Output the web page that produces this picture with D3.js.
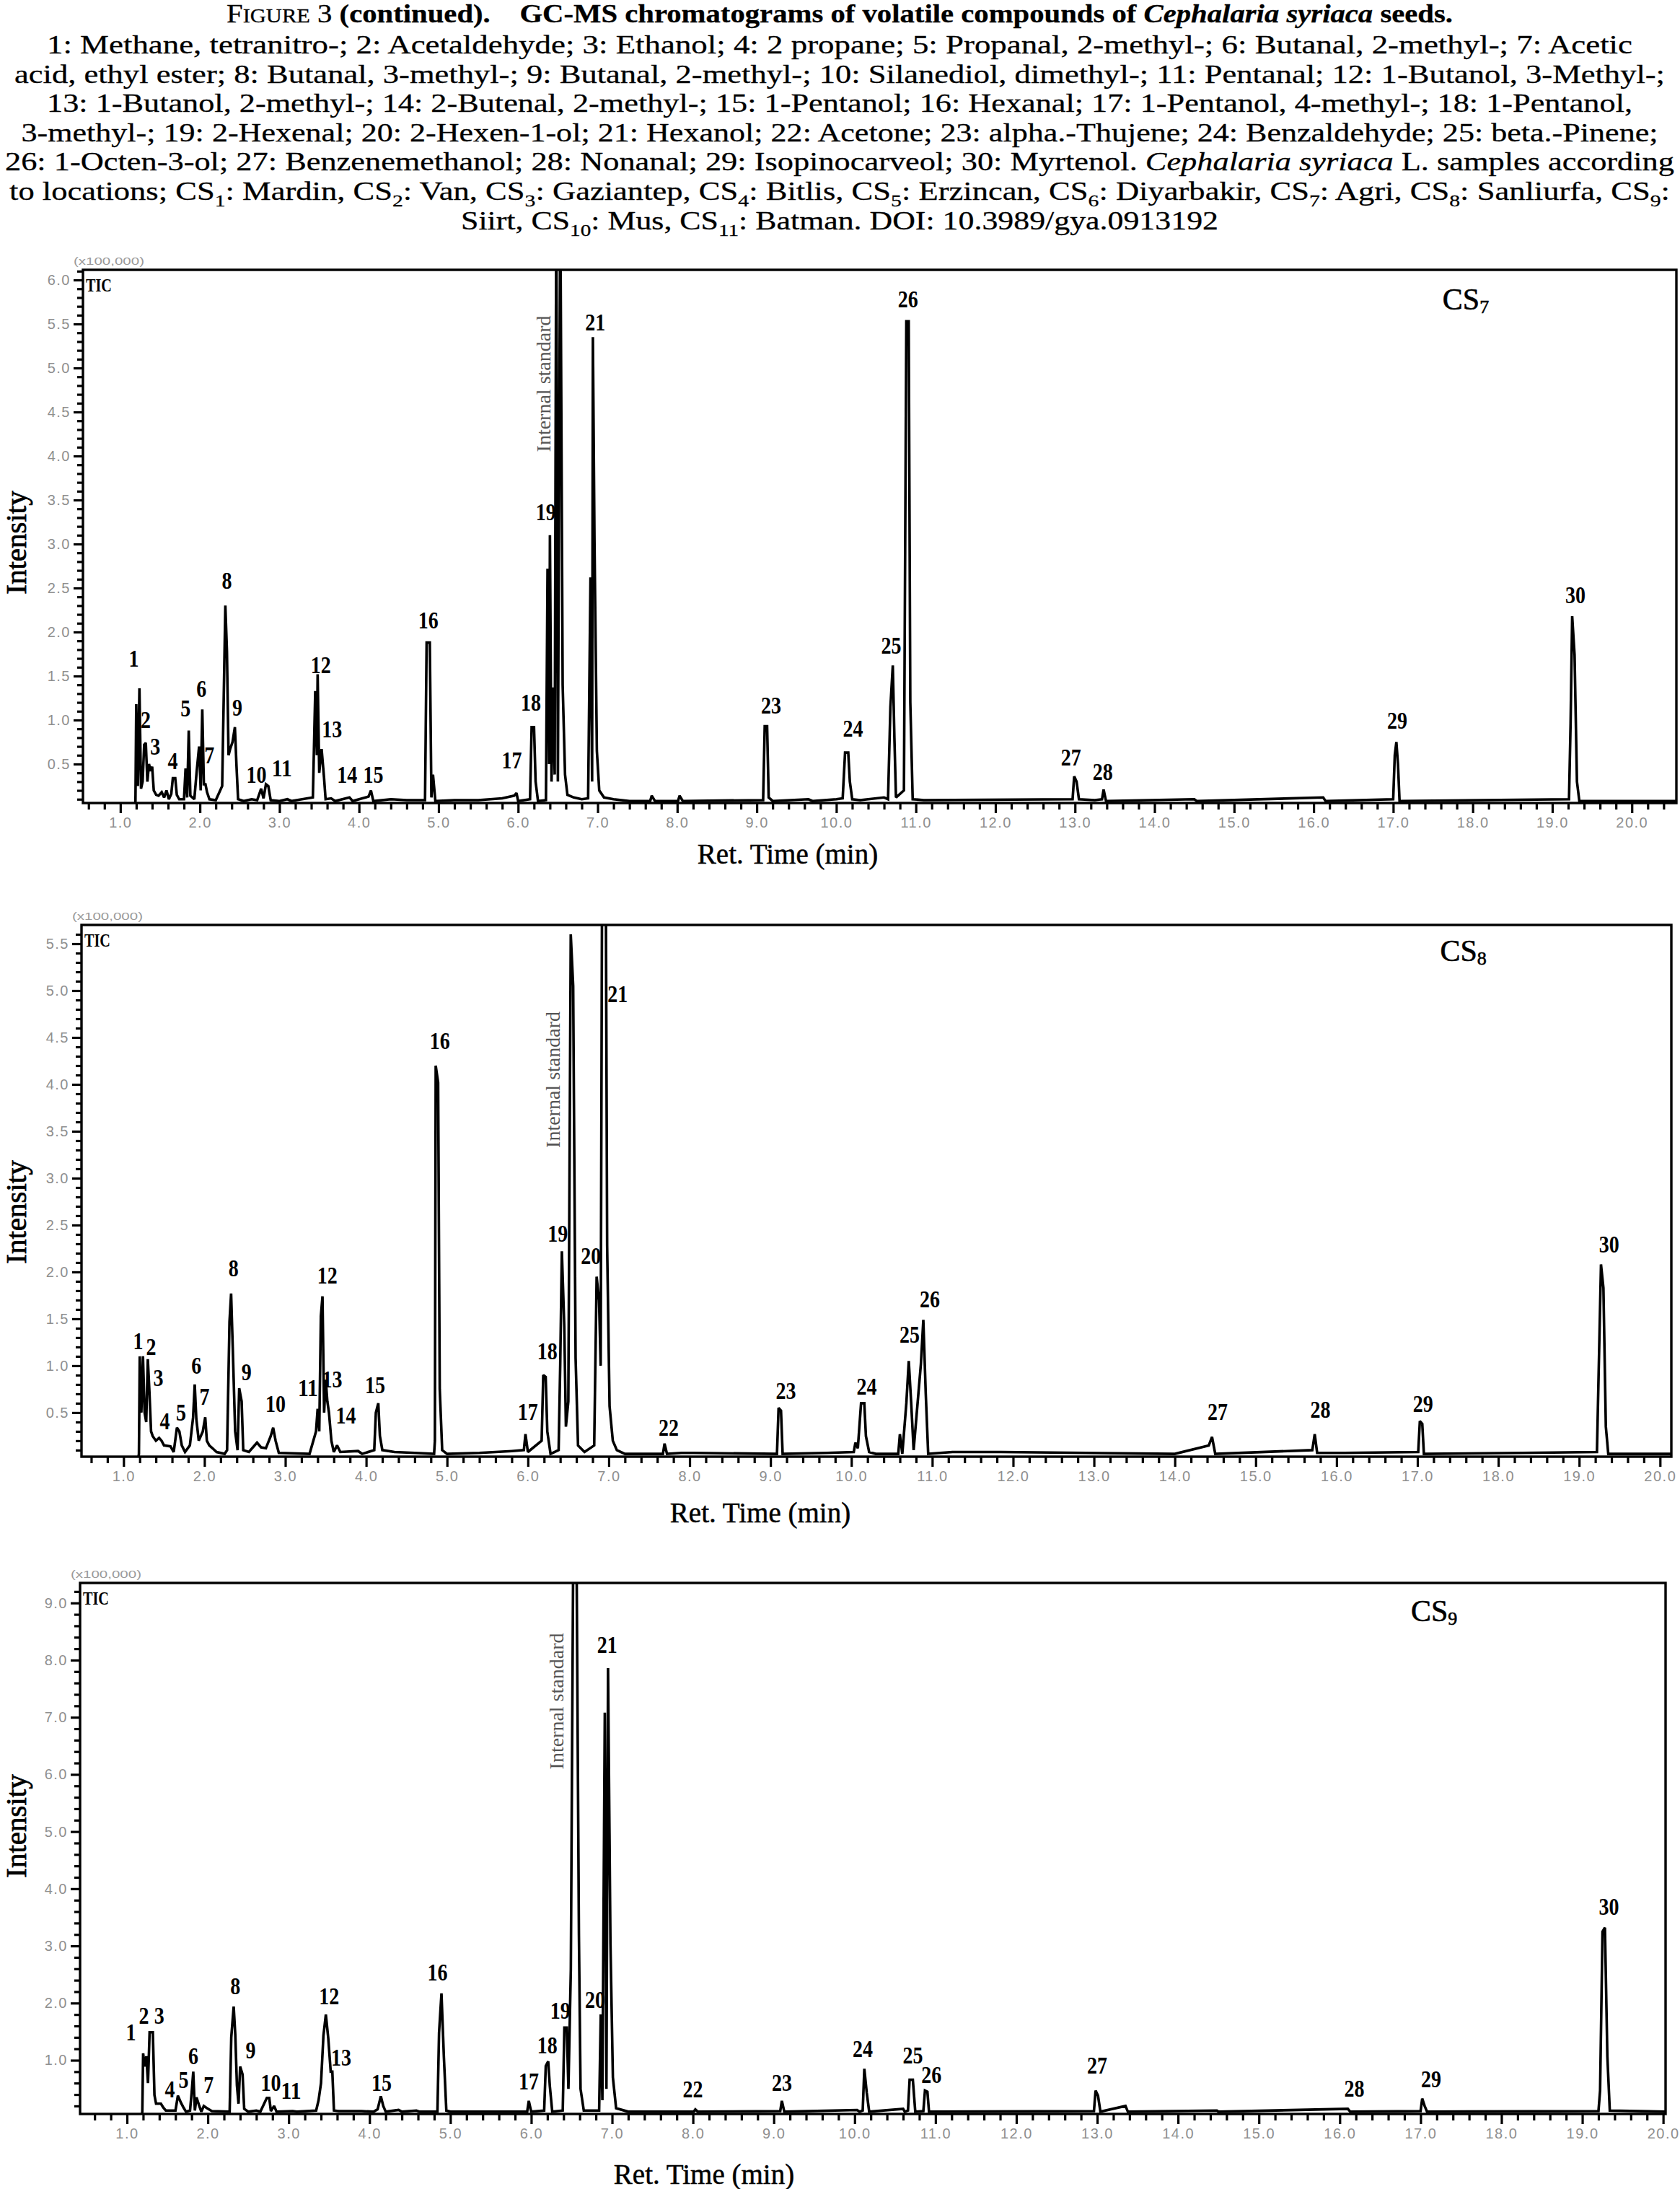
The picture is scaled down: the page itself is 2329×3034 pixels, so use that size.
<!DOCTYPE html>
<html>
<head>
<meta charset="utf-8">
<script src="https://cdn.jsdelivr.net/npm/d3@7"></script>
<style>
  body { margin: 0; background: #fff; }
  svg { display: block; }
</style>
</head>
<body>
<svg id="fig" width="2329" height="3034"></svg>
<script>
// ---- data ----------------------------------------------------------------

const retTimeTicks = [1, 2, 3, 4, 5, 6, 7, 8, 9, 10, 11, 12, 13, 14, 15, 16, 17, 18, 19, 20];
const cs7IntensityTicks = [0.5, 1.0, 1.5, 2.0, 2.5, 3.0, 3.5, 4.0, 4.5, 5.0, 5.5, 6.0];
const cs8IntensityTicks = [0.5, 1.0, 1.5, 2.0, 2.5, 3.0, 3.5, 4.0, 4.5, 5.0, 5.5];
const cs9IntensityTicks = [1, 2, 3, 4, 5, 6, 7, 8, 9];

// [retention time (min), intensity (x100,000)]
const cs7Trace = [[0.53,0],[1.18,0],[1.19,0.08],[1.2,1.18],[1.22,0.25],[1.24,1.36],[1.26,0.22],[1.28,0.3],[1.3,0.72],[1.32,0.74],[1.34,0.3],[1.36,0.5],[1.38,0.42],[1.4,0.47],[1.42,0.2],[1.45,0.15],[1.48,0.14],[1.52,0.18],[1.55,0.12],[1.58,0.2],[1.61,0.1],[1.64,0.16],[1.66,0.34],[1.69,0.34],[1.71,0.15],[1.74,0.1],[1.8,0.1],[1.82,0.45],[1.84,0.12],[1.86,0.88],[1.88,0.14],[1.93,0.1],[1.96,0.42],[1.99,0.7],[2.01,0.2],[2.03,1.12],[2.05,0.27],[2.07,0.27],[2.09,0.18],[2.12,0.1],[2.2,0.09],[2.28,0.25],[2.32,2.3],[2.34,1.78],[2.36,0.6],[2.38,0.67],[2.41,0.75],[2.44,0.92],[2.46,0.48],[2.48,0.1],[2.55,0.08],[2.65,0.1],[2.72,0.09],[2.77,0.22],[2.8,0.11],[2.83,0.27],[2.86,0.25],[2.89,0.09],[3.0,0.08],[3.1,0.1],[3.15,0.08],[3.42,0.12],[3.45,1.33],[3.47,0.6],[3.48,1.52],[3.5,0.4],[3.53,0.67],[3.56,0.35],[3.58,0.1],[3.65,0.11],[3.7,0.08],[3.88,0.12],[3.92,0.08],[4.12,0.13],[4.15,0.2],[4.18,0.08],[4.4,0.1],[4.6,0.09],[4.83,0.09],[4.85,1.88],[4.89,1.88],[4.91,0.12],[4.93,0.38],[4.96,0.08],[5.2,0.09],[5.5,0.09],[5.8,0.11],[5.95,0.14],[5.98,0.17],[6.0,0.08],[6.15,0.1],[6.17,0.92],[6.2,0.92],[6.22,0.3],[6.25,0.08],[6.35,0.09],[6.37,2.72],[6.39,0.5],[6.4,3.1],[6.42,0.3],[6.44,1.37],[6.46,0.38],[6.48,7.0],[6.5,0.3],[6.53,7.0],[6.56,1.4],[6.59,0.38],[6.62,0.15],[6.7,0.12],[6.8,0.1],[6.88,0.11],[6.91,2.62],[6.93,0.3],[6.94,5.35],[6.96,3.05],[6.99,0.65],[7.02,0.2],[7.08,0.12],[7.2,0.1],[7.4,0.08],[7.66,0.08],[7.68,0.14],[7.72,0.08],[8.01,0.08],[8.03,0.14],[8.07,0.08],[9.08,0.09],[9.1,0.93],[9.13,0.93],[9.15,0.12],[9.2,0.08],[9.65,0.1],[9.7,0.08],[10.0,0.1],[10.08,0.11],[10.11,0.63],[10.15,0.63],[10.17,0.3],[10.2,0.1],[10.3,0.09],[10.6,0.12],[10.65,0.1],[10.68,1.15],[10.71,1.62],[10.73,0.8],[10.75,0.12],[10.85,0.2],[10.88,5.53],[10.91,5.53],[10.93,1.2],[10.96,0.1],[11.1,0.09],[12.97,0.1],[12.99,0.36],[13.02,0.3],[13.05,0.1],[13.25,0.09],[13.34,0.1],[13.36,0.21],[13.39,0.08],[14.5,0.1],[14.53,0.08],[16.12,0.12],[16.15,0.08],[17.0,0.1],[17.02,0.6],[17.04,0.75],[17.06,0.5],[17.08,0.08],[19.21,0.1],[19.23,0.96],[19.25,2.18],[19.28,1.74],[19.31,0.3],[19.34,0.08],[20.56,0.08]];

const cs8Trace = [[0.48,0],[1.18,0],[1.19,0.06],[1.2,1.1],[1.22,0.5],[1.24,1.1],[1.26,0.5],[1.28,0.4],[1.3,1.07],[1.32,0.72],[1.34,0.3],[1.36,0.25],[1.4,0.2],[1.44,0.23],[1.47,0.2],[1.5,0.15],[1.58,0.14],[1.62,0.08],[1.66,0.34],[1.69,0.3],[1.72,0.15],[1.76,0.08],[1.82,0.15],[1.86,0.45],[1.88,0.8],[1.9,0.43],[1.93,0.2],[1.98,0.3],[2.01,0.45],[2.03,0.2],[2.06,0.15],[2.1,0.12],[2.15,0.08],[2.25,0.06],[2.28,0.1],[2.31,1.47],[2.33,1.77],[2.35,1.2],[2.38,0.3],[2.41,0.1],[2.43,0.76],[2.46,0.62],[2.48,0.1],[2.55,0.08],[2.65,0.18],[2.7,0.13],[2.76,0.12],[2.82,0.25],[2.85,0.34],[2.88,0.2],[2.92,0.07],[3.3,0.06],[3.38,0.3],[3.4,0.54],[3.42,0.3],[3.44,1.53],[3.46,1.74],[3.48,0.5],[3.5,0.85],[3.52,0.62],[3.54,0.5],[3.57,0.2],[3.6,0.08],[3.64,0.15],[3.68,0.08],[3.9,0.09],[3.95,0.06],[4.1,0.1],[4.12,0.5],[4.15,0.6],[4.17,0.25],[4.2,0.1],[4.35,0.08],[4.6,0.07],[4.84,0.06],[4.85,0.2],[4.86,4.2],[4.89,4.02],[4.91,0.75],[4.94,0.1],[5.0,0.06],[5.4,0.07],[5.8,0.09],[5.95,0.1],[5.97,0.27],[6.0,0.08],[6.17,0.2],[6.19,0.9],[6.22,0.88],[6.24,0.3],[6.28,0.06],[6.38,0.1],[6.4,1.02],[6.42,2.22],[6.45,1.42],[6.47,0.35],[6.5,0.62],[6.53,5.6],[6.56,5.05],[6.59,1.08],[6.62,0.15],[6.7,0.08],[6.82,0.15],[6.85,1.95],[6.88,1.7],[6.9,1.0],[6.92,7.0],[6.96,7.0],[6.98,2.28],[7.01,0.57],[7.05,0.2],[7.1,0.1],[7.2,0.06],[7.67,0.06],[7.69,0.17],[7.72,0.06],[7.9,0.07],[8.05,0.07],[9.08,0.06],[9.1,0.55],[9.13,0.52],[9.15,0.06],[9.7,0.07],[10.03,0.08],[10.05,0.18],[10.08,0.12],[10.12,0.6],[10.16,0.6],[10.18,0.25],[10.22,0.08],[10.3,0.06],[10.58,0.06],[10.6,0.27],[10.63,0.06],[10.68,0.6],[10.71,1.05],[10.74,0.6],[10.77,0.1],[10.86,1.02],[10.89,1.49],[10.92,0.7],[10.95,0.06],[11.25,0.08],[11.4,0.08],[11.7,0.08],[11.85,0.08],[12.9,0.07],[14.0,0.06],[14.42,0.15],[14.46,0.24],[14.5,0.06],[15.7,0.1],[15.73,0.27],[15.76,0.07],[16.1,0.07],[17.01,0.08],[17.03,0.41],[17.06,0.38],[17.08,0.06],[18.3,0.07],[19.22,0.08],[19.24,0.88],[19.27,2.08],[19.3,1.83],[19.33,0.35],[19.36,0.06],[20.14,0.06]];

const cs9Trace = [[0.42,0],[1.18,0],[1.19,0.1],[1.2,1.12],[1.22,0.89],[1.24,1.07],[1.26,0.6],[1.28,1.49],[1.32,1.49],[1.34,0.39],[1.36,0.24],[1.42,0.24],[1.45,0.17],[1.48,0.12],[1.6,0.12],[1.63,0.38],[1.67,0.25],[1.7,0.17],[1.73,0.1],[1.78,0.12],[1.8,0.43],[1.82,0.8],[1.84,0.12],[1.86,0.35],[1.89,0.22],[1.92,0.1],[1.95,0.2],[1.99,0.16],[2.05,0.11],[2.27,0.1],[2.29,1.4],[2.32,1.94],[2.34,1.44],[2.36,0.56],[2.38,0.24],[2.4,0.89],[2.43,0.75],[2.45,0.15],[2.5,0.1],[2.6,0.12],[2.65,0.1],[2.73,0.34],[2.76,0.34],[2.78,0.11],[2.82,0.2],[2.85,0.1],[3.05,0.11],[3.1,0.1],[3.34,0.12],[3.37,0.3],[3.4,0.6],[3.43,1.43],[3.46,1.8],[3.49,1.38],[3.52,0.8],[3.54,0.8],[3.56,0.12],[3.62,0.11],[3.9,0.11],[4.05,0.1],[4.1,0.14],[4.14,0.37],[4.17,0.2],[4.2,0.1],[4.36,0.13],[4.4,0.1],[4.58,0.12],[4.62,0.1],[4.84,0.1],[4.86,1.48],[4.89,2.17],[4.92,1.05],[4.95,0.12],[5.0,0.1],[5.95,0.1],[5.97,0.29],[6.0,0.1],[6.16,0.12],[6.18,0.9],[6.21,0.98],[6.23,0.55],[6.26,0.1],[6.39,0.12],[6.41,1.57],[6.44,1.57],[6.46,0.5],[6.49,2.59],[6.52,10.0],[6.56,10.0],[6.59,3.18],[6.61,0.5],[6.65,0.12],[6.84,0.12],[6.86,1.8],[6.88,0.3],[6.91,7.08],[6.93,0.5],[6.95,7.86],[6.98,3.04],[7.01,0.7],[7.05,0.16],[7.2,0.1],[8.01,0.1],[8.03,0.14],[8.06,0.1],[9.08,0.11],[9.1,0.29],[9.13,0.1],[10.03,0.13],[10.06,0.1],[10.1,0.12],[10.12,0.85],[10.15,0.43],[10.18,0.1],[10.6,0.15],[10.62,0.1],[10.66,0.12],[10.68,0.66],[10.72,0.66],[10.75,0.1],[10.85,0.11],[10.87,0.47],[10.9,0.45],[10.92,0.1],[12.96,0.11],[12.98,0.47],[13.01,0.38],[13.04,0.1],[13.35,0.2],[13.38,0.1],[14.48,0.12],[14.5,0.1],[16.1,0.15],[16.13,0.1],[17.0,0.11],[17.02,0.33],[17.05,0.2],[17.08,0.1],[19.2,0.11],[19.22,0.47],[19.25,3.25],[19.28,3.32],[19.31,1.07],[19.34,0.12],[20.03,0.1]];

// [peak number, retention time, intensity] where each number sits
const cs7PeakLabels = [["1",1.17,1.7],["2",1.32,1.0],["3",1.44,0.7],["4",1.66,0.53],["5",1.82,1.13],["6",2.02,1.35],["7",2.12,0.6],["8",2.34,2.58],["9",2.47,1.14],["10",2.71,0.38],["11",3.03,0.45],["12",3.52,1.62],["13",3.66,0.89],["14",3.85,0.38],["15",4.18,0.38],["16",4.87,2.13],["17",5.92,0.54],["18",6.16,1.2],["19",6.35,3.36],["21",6.97,5.52],["23",9.18,1.16],["24",10.21,0.9],["25",10.69,1.84],["26",10.9,5.78],["27",12.95,0.57],["28",13.35,0.41],["29",17.05,0.99],["30",19.29,2.42]];
const cs8PeakLabels = [["1",1.18,1.26],["2",1.34,1.2],["3",1.43,0.87],["4",1.51,0.41],["5",1.71,0.5],["6",1.9,1.0],["7",2.0,0.67],["8",2.36,2.04],["9",2.52,0.93],["10",2.88,0.59],["11",3.28,0.76],["12",3.52,1.96],["13",3.58,0.85],["14",3.75,0.47],["15",4.11,0.79],["16",4.91,4.46],["17",6.0,0.51],["18",6.24,1.15],["19",6.37,2.41],["20",6.78,2.17],["21",7.11,4.96],["22",7.74,0.34],["23",9.19,0.73],["24",10.19,0.78],["25",10.72,1.33],["26",10.97,1.71],["27",14.53,0.51],["28",15.8,0.53],["29",17.07,0.59],["30",19.37,2.29]];
const cs9PeakLabels = [["1",1.05,1.49],["2",1.21,1.78],["3",1.4,1.78],["4",1.53,0.49],["5",1.7,0.65],["6",1.82,1.07],["7",2.01,0.57],["8",2.34,2.3],["9",2.53,1.17],["10",2.78,0.6],["11",3.03,0.46],["12",3.5,2.12],["13",3.65,1.05],["15",4.15,0.6],["16",4.84,2.54],["17",5.97,0.63],["18",6.2,1.26],["19",6.36,1.87],["20",6.79,2.06],["21",6.94,8.26],["22",8.0,0.49],["23",9.1,0.6],["24",10.1,1.2],["25",10.72,1.08],["26",10.95,0.74],["27",13.0,0.9],["28",16.18,0.5],["29",17.13,0.67],["30",19.33,3.68]];

// internal standard note and sample tag, [text, retention time, intensity]
const cs7Notes = { standard: ["Internal standard", 6.32, 4.82], sample: ["7", 17.62, 5.78] };
const cs8Notes = { standard: ["Internal standard", 6.31, 4.05], sample: ["8", 17.28, 5.42] };
const cs9Notes = { standard: ["Internal standard", 6.31, 7.28], sample: ["9", 16.88, 8.86] };

const captionLines = [
    [["F", "n"], ["IGURE", "sc"], [" 3 ", "n"], ["(continued).", "b"], ["    GC-MS chromatograms of volatile compounds of ", "b"], ["Cephalaria syriaca", "bi"], [" seeds.", "b"]],
    [["1: Methane, tetranitro-; 2: Acetaldehyde; 3: Ethanol; 4: 2 propane; 5: Propanal, 2-methyl-; 6: Butanal, 2-methyl-; 7: Acetic", "n"]],
    [["acid, ethyl ester; 8: Butanal, 3-methyl-; 9: Butanal, 2-methyl-; 10: Silanediol, dimethyl-; 11: Pentanal; 12: 1-Butanol, 3-Methyl-;", "n"]],
    [["13: 1-Butanol, 2-methyl-; 14: 2-Butenal, 2-methyl-; 15: 1-Pentanol; 16: Hexanal; 17: 1-Pentanol, 4-methyl-; 18: 1-Pentanol,", "n"]],
    [["3-methyl-; 19: 2-Hexenal; 20: 2-Hexen-1-ol; 21: Hexanol; 22: Acetone; 23: alpha.-Thujene; 24: Benzaldehyde; 25: beta.-Pinene;", "n"]],
    [["26: 1-Octen-3-ol; 27: Benzenemethanol; 28: Nonanal; 29: Isopinocarveol; 30: Myrtenol. ", "n"], ["Cephalaria syriaca", "i"], [" L. samples according", "n"]],
    [["to locations; CS", "n"], ["1", "sub"], [": Mardin, CS", "n"], ["2", "sub"], [": Van, CS", "n"], ["3", "sub"], [": Gaziantep, CS", "n"], ["4", "sub"], [": Bitlis, CS", "n"], ["5", "sub"], [": Erzincan, CS", "n"], ["6", "sub"], [": Diyarbakir, CS", "n"], ["7", "sub"], [": Agri, CS", "n"], ["8", "sub"], [": Sanliurfa, CS", "n"], ["9", "sub"], [":", "n"]],
    [["Siirt, CS", "n"], ["10", "sub"], [": Mus, CS", "n"], ["11", "sub"], [": Batman. DOI: 10.3989/gya.0913192", "n"]]
];

// ---- drawing -------------------------------------------------------------

const SERIF = "'Liberation Serif', 'Times New Roman', serif";
const SANS = "'Liberation Sans', Arial, sans-serif";
const svg = d3.select("#fig");

// caption: measured line widths and baselines
const captionWidths = [1700, 2198, 2288, 2198, 2269, 2314, 2302, 1050];
const captionBase = [31, 74, 114.6, 155, 196, 236, 277, 318];

const caption = svg.append("g")
    .attr("font-family", SERIF).attr("font-size", 36)
    .attr("fill", "#000").attr("stroke", "#000").attr("stroke-width", 0.3);
captionLines.forEach((segs, i) => {
    const t = caption.append("text")
        .attr("x", 1164)
        .attr("y", captionBase[i])
        .attr("text-anchor", "middle")
        .attr("xml:space", "preserve")
        .style("white-space", "pre")
        .attr("textLength", captionWidths[i])
        .attr("lengthAdjust", "spacingAndGlyphs");
    let lowered = false;
    segs.forEach(([txt, st]) => {
        const s = t.append("tspan").text(txt);
        if (st === "sub") {
            s.attr("font-size", 24).attr("dy", lowered ? 0 : 9);
            lowered = true;
            return;
        }
        if (lowered) { s.attr("dy", -9); lowered = false; }
        if (st === "b" || st === "bi") s.attr("font-weight", "bold");
        if (st === "i" || st === "bi") s.attr("font-style", "italic");
        if (st === "sc") s.attr("font-size", 27);
    });
});

class Chromatogram {
    constructor(svg, box) {
        this.box = box;
        this.g = svg.append("g");
        this.x = d3.scaleLinear().domain(box.xDomain).range([box.left, box.right]);
        this.y = d3.scaleLinear().domain(box.yDomain).range([box.bottom, box.top]);
        this.clipId = "clip-" + box.id;
        this.g.append("clipPath").attr("id", this.clipId)
            .append("rect")
            .attr("x", box.left).attr("y", box.top)
            .attr("width", box.right - box.left).attr("height", box.bottom - box.top);
    }

    draw(trace, labels, notes, yTicks, yMinorStep) {
        const { box, x, y, g } = this;

        const line = d3.line().x(d => x(d[0])).y(d => y(d[1]));
        g.append("path")
            .datum(trace)
            .attr("clip-path", `url(#${this.clipId})`)
            .attr("d", line)
            .attr("fill", "none")
            .attr("stroke", "#000")
            .attr("stroke-width", 3.6)
            .attr("stroke-linejoin", "miter")
            .attr("stroke-miterlimit", 2);

        // frame
        g.append("rect")
            .attr("x", box.left).attr("y", box.top)
            .attr("width", box.right - box.left).attr("height", box.bottom - box.top)
            .attr("fill", "none").attr("stroke", "#000").attr("stroke-width", 3.4);

        // x axis ticks
        const xMinor = d3.range(Math.ceil(box.xDomain[0] * 5) / 5, box.xDomain[1], 0.2)
            .filter(v => Math.abs(v - Math.round(v)) > 1e-6);
        const xMinorAxis = g.append("g").attr("transform", `translate(0,${box.bottom})`)
            .call(d3.axisBottom(x).tickValues(xMinor).tickSize(9).tickFormat(""));
        const xMajorAxis = g.append("g").attr("transform", `translate(0,${box.bottom})`)
            .call(d3.axisBottom(x).tickValues(retTimeTicks).tickSize(14).tickPadding(6)
                .tickFormat(d3.format(".1f")));

        // y axis ticks
        const yMinor = d3.range(yMinorStep, box.yDomain[1], yMinorStep)
            .filter(v => !yTicks.some(t => Math.abs(t - v) < 1e-6));
        const yMinorAxis = g.append("g").attr("transform", `translate(${box.left},0)`)
            .call(d3.axisLeft(y).tickValues(yMinor).tickSize(8).tickFormat(""));
        const yMajorAxis = g.append("g").attr("transform", `translate(${box.left},0)`)
            .call(d3.axisLeft(y).tickValues(yTicks).tickSize(13).tickPadding(4)
                .tickFormat(d3.format(".1f")));

        [xMinorAxis, xMajorAxis, yMinorAxis, yMajorAxis].forEach(a => {
            a.select(".domain").remove();
            a.selectAll(".tick line").attr("stroke", "#000").attr("stroke-width", 3.2);
            a.selectAll(".tick text")
                .attr("font-family", SANS)
                .attr("font-size", 20)
                .attr("fill", "#8f8f8f")
                .attr("letter-spacing", 1.5);
        });

        // axis titles
        g.append("text")
            .attr("x", box.xTitle[0]).attr("y", box.xTitle[1])
            .attr("text-anchor", "middle")
            .attr("dominant-baseline", "central")
            .attr("font-family", SERIF).attr("font-size", 39)
            .attr("stroke", "#000").attr("stroke-width", 0.5)
            .text("Ret. Time (min)");
        g.append("text")
            .attr("transform", `translate(22,${box.yTitle}) rotate(-90)`)
            .attr("text-anchor", "middle")
            .attr("dominant-baseline", "central")
            .attr("font-family", SERIF).attr("font-size", 41)
            .attr("stroke", "#000").attr("stroke-width", 0.8)
            .text("Intensity");

        // scale note and TIC tag
        g.append("text")
            .attr("x", box.left - 13).attr("y", box.top - 7)
            .attr("font-family", SANS).attr("font-size", 15)
            .attr("fill", "#9a9a9a")
            .attr("textLength", 98).attr("lengthAdjust", "spacingAndGlyphs")
            .text("(x100,000)");
        g.append("text")
            .attr("x", box.left + 4).attr("y", box.top + 30)
            .attr("font-family", SERIF).attr("font-size", 26).attr("font-weight", "bold")
            .attr("textLength", 36).attr("lengthAdjust", "spacingAndGlyphs")
            .text("TIC");

        // peak numbers
        g.append("g")
            .selectAll("text")
            .data(labels)
            .join("text")
            .attr("x", d => x(d[1]))
            .attr("y", d => y(d[2]))
            .attr("text-anchor", "middle")
            .attr("dominant-baseline", "central")
            .attr("font-family", SERIF)
            .attr("font-size", 33)
            .attr("font-weight", "bold")
            .attr("textLength", d => d[0].length * 14)
            .attr("lengthAdjust", "spacingAndGlyphs")
            .text(d => d[0]);

        // internal standard
        const [stdText, stdT, stdI] = notes.standard;
        g.append("text")
            .attr("transform", `translate(${x(stdT)},${y(stdI)}) rotate(-90)`)
            .attr("text-anchor", "middle")
            .attr("dominant-baseline", "central")
            .attr("font-family", SERIF).attr("font-size", 28)
            .attr("fill", "#555")
            .text(stdText);

        // sample tag CSn
        const [num, sT, sI] = notes.sample;
        const tag = g.append("text")
            .attr("x", x(sT)).attr("y", y(sI))
            .attr("dominant-baseline", "central")
            .attr("font-family", SERIF).attr("font-size", 42)
            .attr("stroke", "#000").attr("stroke-width", 0.6);
        tag.append("tspan").text("CS");
        tag.append("tspan").attr("font-size", 26).attr("dy", 10).text(num);
    }
}

const panels = [
    { id: "cs7", left: 115, right: 2324, top: 374, bottom: 1113,
      xDomain: [0.53, 20.56], yDomain: [0.057, 6.115],
      xTitle: [1092, 1183], yTitle: 752,
      trace: cs7Trace, labels: cs7PeakLabels, notes: cs7Notes, yTicks: cs7IntensityTicks, minor: 0.1 },
    { id: "cs8", left: 113, right: 2317, top: 1282, bottom: 2019,
      xDomain: [0.48, 20.14], yDomain: [0.03, 5.7],
      xTitle: [1054, 2096], yTitle: 1680,
      trace: cs8Trace, labels: cs8PeakLabels, notes: cs8Notes, yTicks: cs8IntensityTicks, minor: 0.1 },
    { id: "cs9", left: 111, right: 2309, top: 2194, bottom: 2930,
      xDomain: [0.42, 20.03], yDomain: [0.06, 9.35],
      xTitle: [976, 3013], yTitle: 2531,
      trace: cs9Trace, labels: cs9PeakLabels, notes: cs9Notes, yTicks: cs9IntensityTicks, minor: 0.2 }
];

panels.forEach(p => {
    const chart = new Chromatogram(svg, p);
    chart.draw(p.trace, p.labels, p.notes, p.yTicks, p.minor);
});
</script>
</body>
</html>
